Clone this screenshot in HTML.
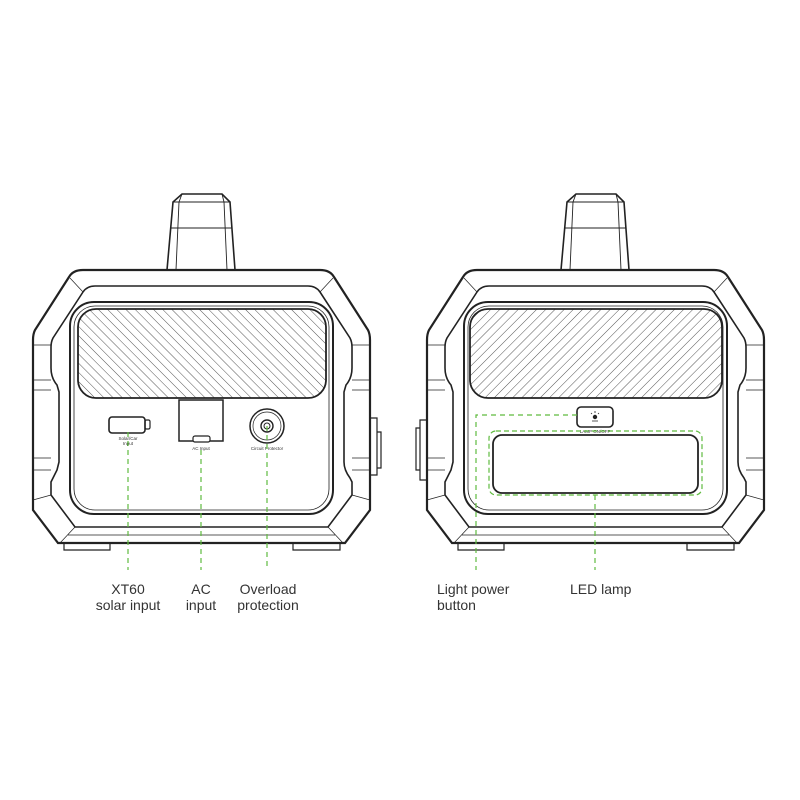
<!DOCTYPE html>
<html><head><meta charset="utf-8"><style>
html,body{margin:0;padding:0;background:#fff;}
svg{display:block;}
text{font-family:"Liberation Sans","DejaVu Sans",sans-serif;fill:#333;}
</style></head><body>
<svg width="800" height="800" viewBox="0 0 800 800" xmlns="http://www.w3.org/2000/svg">
<defs>
<pattern id="hL" width="6.5" height="6.5" patternUnits="userSpaceOnUse" patternTransform="rotate(-45)">
<line x1="0" y1="0" x2="0" y2="6.5" stroke="#555" stroke-width="1"/></pattern>
<pattern id="hR" width="6.5" height="6.5" patternUnits="userSpaceOnUse" patternTransform="rotate(45)">
<line x1="0" y1="0" x2="0" y2="6.5" stroke="#555" stroke-width="1"/></pattern>
<g id="unit" fill="none" stroke="#222">
 <path d="M182,194 L222,194 L230,202 L235,270 L167,270 L173,202 Z" stroke-width="1.6"/>
 <path d="M182,194 L179,202 L176,270 M222,194 L224,202 L227,270 M173,202 L230,202 M171,228 L232,228" stroke-width="0.9"/>
 <path d="M83,270 L320,270 Q330,270 334,277 L368,330 Q370,334 370,340 L370,510 L345,543 L58,543 L33,510 L33,340 Q33,334 35,330 L69,277 Q73,270 83,270 Z" stroke-width="2.2" fill="#fff"/>
 <path d="M95,286 L308,286 Q316,286 320,292 L350,338 Q352,342 352,347 L352,368 Q352,378 346,385 L344,392 L344,462 Q344,470 350,478 L352,482 L352,495 L328,527 L75,527 L51,495 L51,482 Q53,478 57,470 L59,462 L59,392 L57,385 Q51,378 51,368 L51,347 Q51,342 53,338 L83,292 Q87,286 95,286 Z" stroke-width="1.6"/>
 <path d="M33,345 L51,345 M33,380 L51,380 M33,470 L51,470 M370,345 L352,345 M370,380 L352,380 M370,470 L352,470 M352,390 L370,390 M352,458 L370,458 M33,390 L51,390 M33,458 L51,458 M70,278 L83,292 M333,278 L320,292 M33,500 L51,495 M370,500 L352,495 M60,543 L75,527 M343,543 L328,527 M68,535 L335,535" stroke-width="0.7"/>
 <rect x="70" y="302" width="263" height="212" rx="24" stroke-width="2"/>
 <rect x="74" y="306" width="255" height="204" rx="21" stroke-width="0.8"/>
 <path d="M64,543 L64,550 L110,550 L110,543 M293,543 L293,550 L340,550 L340,543" stroke-width="1.2"/>
</g>
</defs>

<use href="#unit"/>
<rect x="78" y="309" width="248" height="89" rx="18" fill="url(#hL)" stroke="#222" stroke-width="1.8"/>
<path d="M370,418 L377,418 L377,475 L370,475 M377,432 L381,432 L381,468 L377,468" fill="none" stroke="#222" stroke-width="1.2"/>
<rect x="109" y="417" width="36" height="16" rx="3" fill="none" stroke="#222" stroke-width="1.6"/>
<rect x="145" y="420" width="5" height="9" rx="1.5" fill="none" stroke="#222" stroke-width="1.2"/>
<text x="128" y="440" font-size="4.5" text-anchor="middle">Solar/Car</text>
<text x="128" y="445" font-size="4.5" text-anchor="middle">Input</text>
<rect x="179" y="400" width="44" height="41" fill="none" stroke="#222" stroke-width="1.5"/>
<rect x="193" y="436" width="17" height="6" rx="2" fill="#fff" stroke="#222" stroke-width="1.2"/>
<text x="201" y="450" font-size="4.5" text-anchor="middle">AC Input</text>
<circle cx="267" cy="426" r="17" fill="none" stroke="#222" stroke-width="1.5"/>
<circle cx="267" cy="426" r="14" fill="none" stroke="#222" stroke-width="0.7"/>
<circle cx="267" cy="426" r="6" fill="none" stroke="#222" stroke-width="1.4"/>
<circle cx="267" cy="426" r="3" fill="none" stroke="#222" stroke-width="1"/>
<text x="267" y="450" font-size="4.5" text-anchor="middle">Circuit Protector</text>
<g stroke="#5fbb3f" stroke-width="1.2" stroke-dasharray="5,4" fill="none">
<line x1="128" y1="432" x2="128" y2="570"/>
<line x1="201" y1="450" x2="201" y2="570"/>
<line x1="267" y1="426" x2="267" y2="570"/>
</g>

<use href="#unit" transform="translate(394,0)"/>
<rect x="470" y="309" width="252" height="89" rx="18" fill="url(#hR)" stroke="#222" stroke-width="1.8"/>
<path d="M427,420 L420,420 L420,480 L427,480 M420,428 L416,428 L416,470 L420,470" fill="none" stroke="#222" stroke-width="1.2"/>
<rect x="577" y="407" width="36" height="20" rx="4" fill="#fff" stroke="#222" stroke-width="1.6"/>
<circle cx="595" cy="417" r="2.2" fill="#222"/>
<path d="M592,421 L598,421 M595,411 L595,413 M591,413 L592,414 M599,413 L598,414" stroke="#222" stroke-width="0.8"/>
<text x="595" y="433" font-size="4.5" text-anchor="middle">LAMP ON/OFF</text>
<rect x="489" y="431" width="213" height="64" rx="7" fill="none" stroke="#5fbb3f" stroke-width="1.2" stroke-dasharray="5,3"/>
<rect x="493" y="435" width="205" height="58" rx="9" fill="none" stroke="#222" stroke-width="1.8"/>
<g stroke="#5fbb3f" stroke-width="1.2" stroke-dasharray="5,4" fill="none">
<polyline points="577,415 476,415 476,570"/>
<line x1="595" y1="495" x2="595" y2="570"/>
</g>

<g font-size="14">
<text x="128" y="594" text-anchor="middle">XT60</text>
<text x="128" y="610" text-anchor="middle">solar input</text>
<text x="201" y="594" text-anchor="middle">AC</text>
<text x="201" y="610" text-anchor="middle">input</text>
<text x="268" y="594" text-anchor="middle">Overload</text>
<text x="268" y="610" text-anchor="middle">protection</text>
<text x="437" y="594">Light power</text>
<text x="437" y="610">button</text>
<text x="570" y="594">LED lamp</text>
</g>
</svg>
</body></html>
